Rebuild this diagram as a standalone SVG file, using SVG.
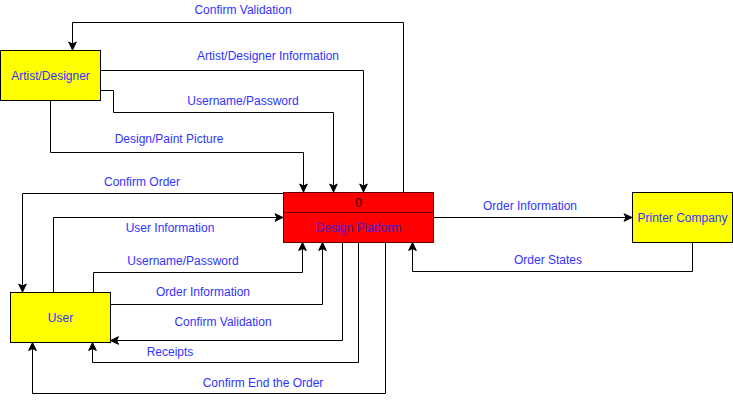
<svg xmlns="http://www.w3.org/2000/svg" width="733" height="402" viewBox="0 0 733 402">
<style>
.box{stroke:#000;stroke-width:1}
.yel{fill:#ffff00}
.red{fill:#ff0000;stroke:#660000}
.lbl{font-family:"Liberation Sans",Arial,sans-serif;font-size:12px;fill:#3333ff;text-anchor:middle;dominant-baseline:central}
.blk{fill:#330000}
.pl{fill:#4a1ad2}
.edge{fill:none;stroke:#000;stroke-width:1;marker-end:url(#arr)}
</style>
<defs>
<marker id="arr" markerUnits="userSpaceOnUse" markerWidth="10" markerHeight="10" viewBox="0 0 10 10" refX="9" refY="5" orient="auto">
<path d="M1,1.2 L9,5 L1,8.8 L3,5 Z" fill="#000" stroke="#000" stroke-width="1"/>
</marker>
</defs>
<rect width="733" height="402" fill="#fff"/>
<g id="connectors">
<path class="edge" d="M403.5,192 V22.5 H72.5 V50"/>
<path class="edge" d="M100.5,70.5 H363.5 V192"/>
<path class="edge" d="M100.5,90.5 H113.5 V112.5 H333.5 V192"/>
<path class="edge" d="M50.5,100.5 V152.5 H303.5 V192"/>
<path class="edge" d="M283,193.5 H22.5 V292"/>
<path class="edge" d="M53.5,292 V217.5 H283"/>
<path class="edge" d="M93.5,292 V272.5 H302.5 V242.5"/>
<path class="edge" d="M110.5,304.5 H322.5 V242.5"/>
<path class="edge" d="M342.5,242.5 V340.5 H110.5"/>
<path class="edge" d="M358.5,242.5 V362.5 H92.5 V342.5"/>
<path class="edge" d="M385.5,242.5 V393.5 H32.5 V342.5"/>
<path class="edge" d="M433.5,217.5 H632"/>
<path class="edge" d="M692.5,242.5 V271.5 H412.5 V242.5"/>
<text class="lbl" x="243" y="10">Confirm Validation</text>
<text class="lbl" x="268" y="56">Artist/Designer Information</text>
<text class="lbl" x="243" y="101">Username/Password</text>
<text class="lbl" x="169" y="139">Design/Paint Picture</text>
<text class="lbl" x="142" y="182">Confirm Order</text>
<text class="lbl" x="170" y="228">User Information</text>
<text class="lbl" x="183" y="261">Username/Password</text>
<text class="lbl" x="203" y="292">Order Information</text>
<text class="lbl" x="223" y="322">Confirm Validation</text>
<text class="lbl" x="170" y="352">Receipts</text>
<text class="lbl" x="263" y="383">Confirm End the Order</text>
<text class="lbl" x="530" y="206">Order Information</text>
<text class="lbl" x="548" y="260">Order States</text>
</g>
<g id="artist">
<rect class="box yel" x="0.5" y="50.5" width="100" height="50"/>
<text class="lbl" x="50.5" y="75.5">Artist/Designer</text>
</g>
<g id="platform">
<rect class="box red" x="283.5" y="192.5" width="150" height="50"/>
<line x1="283.5" y1="212.5" x2="433.5" y2="212.5" stroke="#660000"/>
<text class="lbl blk" x="358.5" y="202.5">0</text>
<text class="lbl pl" x="358.5" y="227.5">Design Platform</text>
</g>
<g id="user">
<rect class="box yel" x="10.5" y="292.5" width="100" height="50"/>
<text class="lbl" x="60.5" y="317.5">User</text>
</g>
<g id="printer">
<rect class="box yel" x="632.5" y="192.5" width="100" height="50"/>
<text class="lbl" x="682.5" y="217.5">Printer Company</text>
</g>
</svg>
